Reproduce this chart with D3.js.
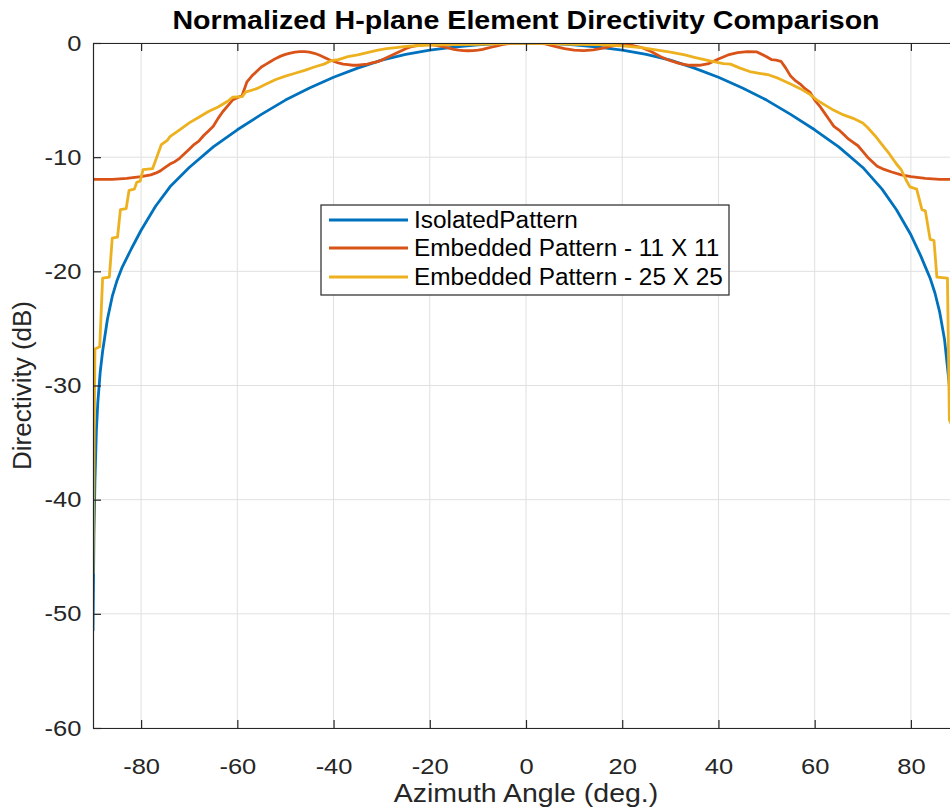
<!DOCTYPE html>
<html><head><meta charset="utf-8">
<script src="https://cdn.jsdelivr.net/npm/d3@7/dist/d3.min.js"></script>
<style>body{margin:0;background:#fff}svg{display:block;font-family:"Liberation Sans",Arial,Helvetica,sans-serif}</style>
</head><body><svg id="chart" width="950" height="807"></svg>
<script>
// ---------- data ----------
const titleText = "Normalized H-plane Element Directivity Comparison";
const xLabelText = "Azimuth Angle (deg.)";
const yLabelText = "Directivity (dB)";
const seriesNames = ["IsolatedPattern", "Embedded Pattern - 11 X 11", "Embedded Pattern - 25 X 25"];
const seriesColors = ["#0072BD", "#D95319", "#EDB120"];
const xTicks = [-80, -60, -40, -20, 0, 20, 40, 60, 80];
const yTicks = [-60, -50, -40, -30, -20, -10, 0];

const isoAngles = [-90, -89.8, -89.6, -89.3, -89, -88.5, -88, -87, -86, -85, -84, -82, -80, -77, -74, -70, -65, -60, -55, -50, -45, -40, -35, -30, -25, -20, -15, -10, -5, 0,
  5, 10, 15, 20, 25, 30, 35, 40, 45, 50, 55, 60, 65, 70, 74, 77, 80, 82, 83.4, 84, 85, 86, 87, 88, 88.5, 89, 89.5, 90];
const isoValues = [-51.5, -43, -38.5, -34, -31.5, -28.8, -27.0, -24.2, -22.2, -20.8, -19.7, -18.0, -16.4, -14.3, -12.6, -10.9, -9.1, -7.6, -6.25, -5.0, -3.95, -3.0, -2.2, -1.5, -1.0, -0.63, -0.36, -0.16, -0.04, 0,
  -0.04, -0.16, -0.36, -0.63, -1.0, -1.5, -2.2, -3.0, -3.95, -5.0, -6.25, -7.6, -9.1, -10.9, -12.8, -14.6, -16.8, -18.6, -20.0, -20.6, -21.9, -23.6, -26.0, -30.0, -33.0, -37.0, -42.0, -51.5];

const emb11Angles = [-90, -86, -83, -80, -78, -77, -76, -75, -74, -73, -72, -71, -70, -69, -68, -67, -66, -65, -64, -63, -62, -61, -60, -59, -58, -57, -56, -55, -54, -53, -52, -51, -50, -49, -48, -47, -46, -45, -44, -43, -42, -41, -40, -39, -38, -37, -36, -35, -34, -33, -32, -31, -30, -29, -28, -27, -26, -25, -24, -23, -22, -21, -20, -19, -18, -17, -16, -15, -14, -13, -12, -11, -10, -9, -8, -7, -6, -5, -4, -3, -2, 0,
  2, 4, 6, 8, 10, 12, 14, 16, 18, 20, 22, 24, 26, 28, 30, 32, 34, 36, 38, 40, 42, 44, 46, 48, 50, 51, 52, 53, 54, 55, 56, 57, 58, 59, 60, 61, 62, 63, 64, 65, 66, 67, 68, 69, 70, 71, 72, 73, 74, 76, 78, 80, 83, 86, 90];
const emb11Values = [-11.95, -11.95, -11.85, -11.7, -11.55, -11.4, -11.2, -10.9, -10.6, -10.4, -10.1, -9.7, -9.3, -8.9, -8.6, -8.1, -7.7, -7.3, -6.6, -6.0, -5.5, -5.0, -4.8, -4.6, -3.4, -2.9, -2.5, -2.1, -1.85, -1.6, -1.35, -1.15, -1.0, -0.88, -0.8, -0.76, -0.76, -0.8, -0.9, -1.05, -1.25, -1.45, -1.6, -1.75, -1.85, -1.9, -1.95, -1.95, -1.9, -1.85, -1.75, -1.65, -1.5, -1.3, -1.1, -0.9, -0.7, -0.5, -0.35, -0.25, -0.18, -0.15, -0.15, -0.18, -0.25, -0.35, -0.45, -0.55, -0.62, -0.66, -0.68, -0.67, -0.62, -0.55, -0.45, -0.35, -0.25, -0.15, -0.08, -0.03, 0, 0,
  0, -0.08, -0.3, -0.5, -0.62, -0.66, -0.6, -0.45, -0.25, -0.15, -0.2, -0.4, -0.75, -1.2, -1.55, -1.8, -1.95, -1.95, -1.8, -1.4, -1.05, -0.85, -0.76, -0.78, -1.2, -1.45, -1.5, -1.6, -2.2, -2.9, -3.3, -3.6, -4.0, -4.3, -5.0, -5.5, -6.1, -6.7, -7.3, -7.6, -8.0, -8.4, -8.7, -9.0, -9.5, -10.0, -10.4, -10.8, -11.0, -11.3, -11.55, -11.7, -11.85, -11.95, -11.95];

const emb25Angles = [-90, -89.6, -88.6, -88.0, -86.6, -86.0, -84.9, -84.3, -83.1, -82.5, -81.4, -80.9, -80.2, -79.6, -77.6, -75.8, -74.5, -74, -72, -70, -68, -66, -64, -62, -61, -59, -58.3, -56, -54, -52, -50, -48, -46, -44, -42, -40.5, -39, -37, -35, -33, -31, -29, -27, -25, -22, -20, -15, -10, -5, 0,
  5, 10, 15, 20, 24, 27, 30, 33, 35, 38, 41, 42.5, 44.5, 46.5, 48.5, 50.5, 52.5, 55, 57, 59, 60.5, 62, 64, 66, 68, 70, 71, 72.5, 74, 75.5, 77, 78, 79, 79.8, 81.2, 82.3, 83, 84, 84.8, 85.4, 87.6, 88.0, 89.0, 89.4, 90];
const emb25Values = [-46.5, -26.8, -26.6, -20.6, -20.5, -17.1, -17.0, -14.6, -14.5, -12.9, -12.8, -12.2, -12.1, -11.1, -11.0, -8.9, -8.5, -8.2, -7.6, -7.0, -6.5, -6.0, -5.6, -5.1, -4.75, -4.7, -4.3, -4.0, -3.6, -3.2, -2.9, -2.65, -2.4, -2.1, -1.85, -1.55, -1.45, -1.2, -1.05, -0.85, -0.65, -0.5, -0.4, -0.3, -0.22, -0.18, -0.15, -0.12, -0.05, 0,
  -0.05, -0.12, -0.15, -0.25, -0.4, -0.6, -0.8, -1.05, -1.25, -1.55, -1.8, -1.85, -2.2, -2.5, -2.65, -2.8, -3.1, -3.6, -4.0, -4.5, -5.0, -5.4, -5.9, -6.3, -6.6, -7.0, -7.4, -8.1, -8.9, -9.7, -10.6, -11.1, -12.0, -12.6, -12.8, -14.6, -14.7, -17.2, -17.3, -20.5, -20.6, -33.0, -34.0, -46.5, -46.5];

// ---------- layout ----------
const svg = d3.select("#chart");
const plot = {left: 93, right: 959, top: 43, bottom: 728};
const axisColor = "#262626";
const fontFam = '"Liberation Sans", Arial, Helvetica, sans-serif';
const x = d3.scaleLinear().domain([-90, 90]).range([plot.left, plot.right]);
const y = d3.scaleLinear().domain([-60, 0]).range([plot.bottom, plot.top]);

svg.append("rect").attr("x", 0).attr("y", 0).attr("width", 950).attr("height", 807).attr("fill", "#fff");

svg.append("defs").append("clipPath").attr("id", "clip")
  .append("rect").attr("x", plot.left).attr("y", plot.top)
  .attr("width", plot.right - plot.left).attr("height", plot.bottom - plot.top);

// grid
const grid = svg.append("g").attr("stroke", "#e0e0e0").attr("stroke-width", 1);
grid.selectAll("line.vx").data(xTicks).join("line").attr("class", "vx")
  .attr("x1", d => x(d)).attr("x2", d => x(d)).attr("y1", plot.top).attr("y2", plot.bottom);
grid.selectAll("line.hy").data(yTicks).join("line").attr("class", "hy")
  .attr("y1", d => y(d)).attr("y2", d => y(d)).attr("x1", plot.left).attr("x2", plot.right);

// series
const series = [
  {angles: isoAngles, values: isoValues},
  {angles: emb11Angles, values: emb11Values},
  {angles: emb25Angles, values: emb25Values}
];
const line = d3.line().x(d => x(d[0])).y(d => y(d[1]));
const lines = svg.append("g").attr("clip-path", "url(#clip)");
series.forEach((s, i) => {
  const pts = s.angles.map((a, k) => [a, s.values[k]]);
  lines.append("path").datum(pts).attr("d", line)
    .attr("fill", "none").attr("stroke", seriesColors[i])
    .attr("stroke-width", 2.8).attr("stroke-linejoin", "round");
});

// axes
const tickFmt = d => String(d);
function styleAxis(g) {
  g.selectAll("path.domain").attr("stroke", axisColor).attr("stroke-width", 1.2);
  g.selectAll(".tick line").attr("stroke", axisColor).attr("stroke-width", 1.2);
  g.selectAll(".tick text").attr("fill", axisColor).attr("font-size", 22)
    .attr("font-family", fontFam).attr("transform", "scale(1.16,1)");
}
svg.append("g").attr("transform", `translate(0,${plot.bottom})`)
  .call(d3.axisBottom(x).tickValues(xTicks).tickFormat(tickFmt).tickSizeInner(-8).tickSizeOuter(0).tickPadding(30))
  .call(styleAxis);
svg.append("g").attr("transform", `translate(0,${plot.top})`)
  .call(d3.axisTop(x).tickValues(xTicks).tickFormat("").tickSizeInner(-8).tickSizeOuter(0))
  .call(styleAxis);
svg.append("g").attr("transform", `translate(${plot.left},0)`)
  .call(d3.axisLeft(y).tickValues(yTicks).tickFormat(tickFmt).tickSizeInner(-8).tickSizeOuter(0).tickPadding(10))
  .call(styleAxis);
svg.append("g").attr("transform", `translate(${plot.right},0)`)
  .call(d3.axisRight(y).tickValues(yTicks).tickFormat("").tickSizeInner(-8).tickSizeOuter(0))
  .call(styleAxis);

// labels
svg.append("text").attr("transform", `translate(${(plot.left + plot.right) / 2},29) scale(1.1,1)`)
  .attr("text-anchor", "middle").attr("font-weight", "bold").attr("font-size", 26)
  .attr("fill", "#000").text(titleText);
svg.append("text").attr("transform", `translate(${(plot.left + plot.right) / 2},801.5) scale(1.14,1)`)
  .attr("text-anchor", "middle").attr("font-size", 25).attr("fill", axisColor).text(xLabelText);
svg.append("text").attr("transform", `translate(31,${(plot.top + plot.bottom) / 2}) rotate(-90)`)
  .attr("text-anchor", "middle").attr("font-size", 26).attr("fill", axisColor).text(yLabelText);

// legend
const lg = svg.append("g");
lg.append("rect").attr("x", 321).attr("y", 205).attr("width", 408).attr("height", 90)
  .attr("fill", "#fff").attr("stroke", axisColor).attr("stroke-width", 1.2);
const rowsY = [220, 248, 277];
seriesNames.forEach((name, i) => {
  lg.append("line").attr("x1", 329).attr("x2", 408).attr("y1", rowsY[i]).attr("y2", rowsY[i])
    .attr("stroke", seriesColors[i]).attr("stroke-width", 2.8);
  lg.append("text").attr("transform", `translate(414,${rowsY[i]}) scale(1.06,1)`).attr("dy", "0.35em")
    .attr("font-size", 23).attr("fill", "#000").text(name);
});
</script></body></html>
